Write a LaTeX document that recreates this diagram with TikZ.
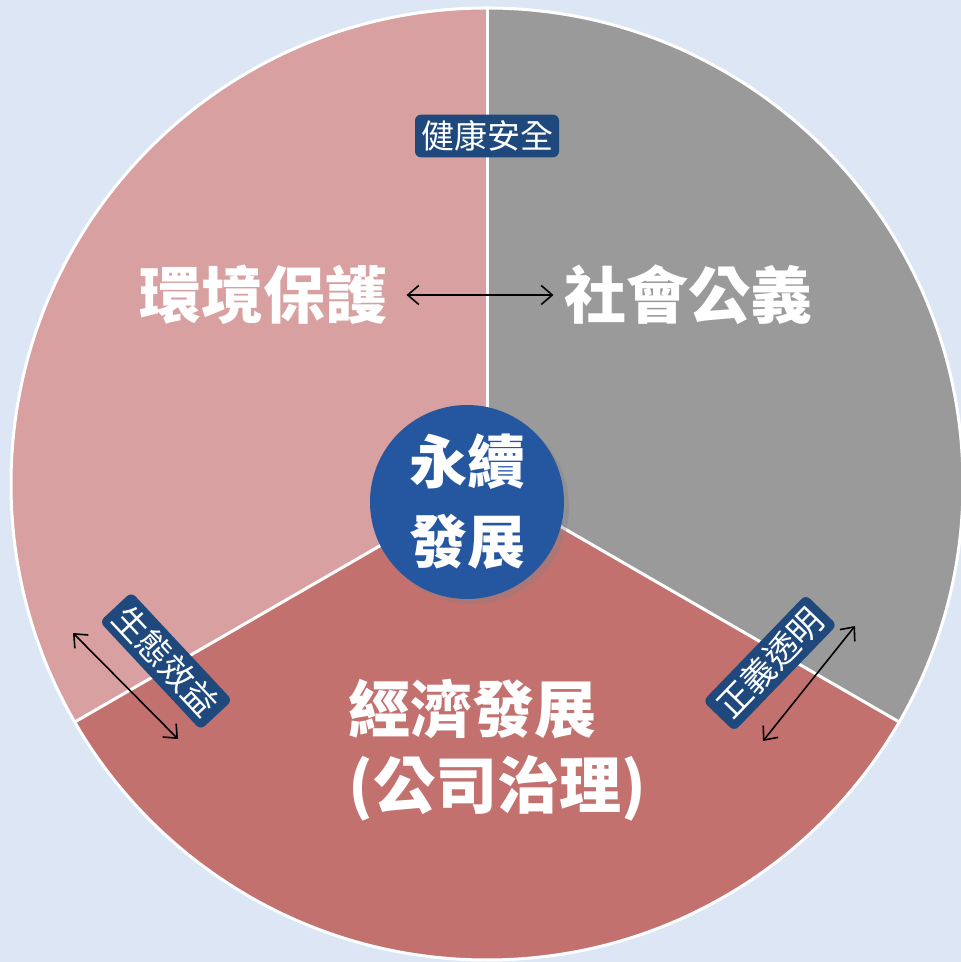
\documentclass[tikz,border=0pt]{standalone}
\usepackage{fontspec}
\newfontfamily\cjk{Noto Sans CJK TC}
\usepackage{tikz}
\usetikzlibrary{arrows.meta, shadows}
\definecolor{bgblue}{HTML}{DCE6F4}
\definecolor{envpink}{HTML}{D8A0A0}
\definecolor{socgray}{HTML}{9A9A9A}
\definecolor{ecored}{HTML}{C3716E}
\definecolor{coreblue}{HTML}{2557A1}
\definecolor{tagblue}{HTML}{1F497D}
\tikzset{
  biglabel/.style={text=white, font=\cjk\bfseries\fontsize{62}{76}\selectfont},
  tagbox/.style={fill=tagblue, rounded corners=6pt, text=white, font=\cjk\fontsize{34}{38}\selectfont, inner sep=6pt},
  dblarrow/.style={line width=1.6pt, {Straight Barb[length=11pt,width=19pt]}-{Straight Barb[length=11pt,width=19pt]}},
  divider/.style={white, line width=3pt}
}

\begin{document}
\begin{tikzpicture}[x=1pt, y=1pt]
% Background
\fill[bgblue] (0,0) rectangle (961,962);
\useasboundingbox (0,0) rectangle (961,962);

% Sectors
\coordinate (C) at (487,478);
\fill[envpink] (C) -- ++(90:476pt) arc[start angle=90, end angle=210, radius=476pt] -- cycle;
\fill[socgray] (C) -- ++(-30:476pt) arc[start angle=-30, end angle=90, radius=476pt] -- cycle;
\fill[ecored] (C) -- ++(210:476pt) arc[start angle=210, end angle=330, radius=476pt] -- cycle;
\draw[divider] (C) circle[radius=476pt];
\draw[divider] (C) -- ++(90:476pt);
\draw[divider] (C) -- ++(210:476pt);
\draw[divider] (C) -- ++(330:476pt);

% Pillars
\node[biglabel] (env) at (263,667) {環境保護};
\node[biglabel] (soc) at (688,667) {社會公義};
\node[biglabel, align=left] (eco) at (497,212) {經濟發展\\(公司治理)};
\draw[dblarrow] ([xshift=16pt]env.east) -- ([xshift=-7pt]soc.west);

% Core
\node[circle, fill=coreblue, minimum size=194pt, inner sep=0pt,
  drop shadow={shadow xshift=5pt, shadow yshift=-5pt, opacity=0.35},
  text=white, font=\cjk\bfseries\fontsize{58}{80}\selectfont, align=center] (core) at (467,460) {永續\\發展};

% Tags
\node[tagbox, font=\cjk\fontsize{33}{36}\selectfont] (health) at (487,826) {健康安全};
\node[tagbox, rotate=-47] (ecotag) at (166,301) {生態效益};
\node[tagbox, rotate=46] (justtag) at (770,299) {正義透明};

% Side arrows
\coordinate (ecoA) at (73,329);
\coordinate (ecoB) at (178,223);
\draw[dblarrow] (ecoA) -- (ecoB);
\coordinate (justA) at (763,221);
\coordinate (justB) at (855,336);
\draw[dblarrow] (justA) -- (justB);
\end{tikzpicture}
\end{document}
